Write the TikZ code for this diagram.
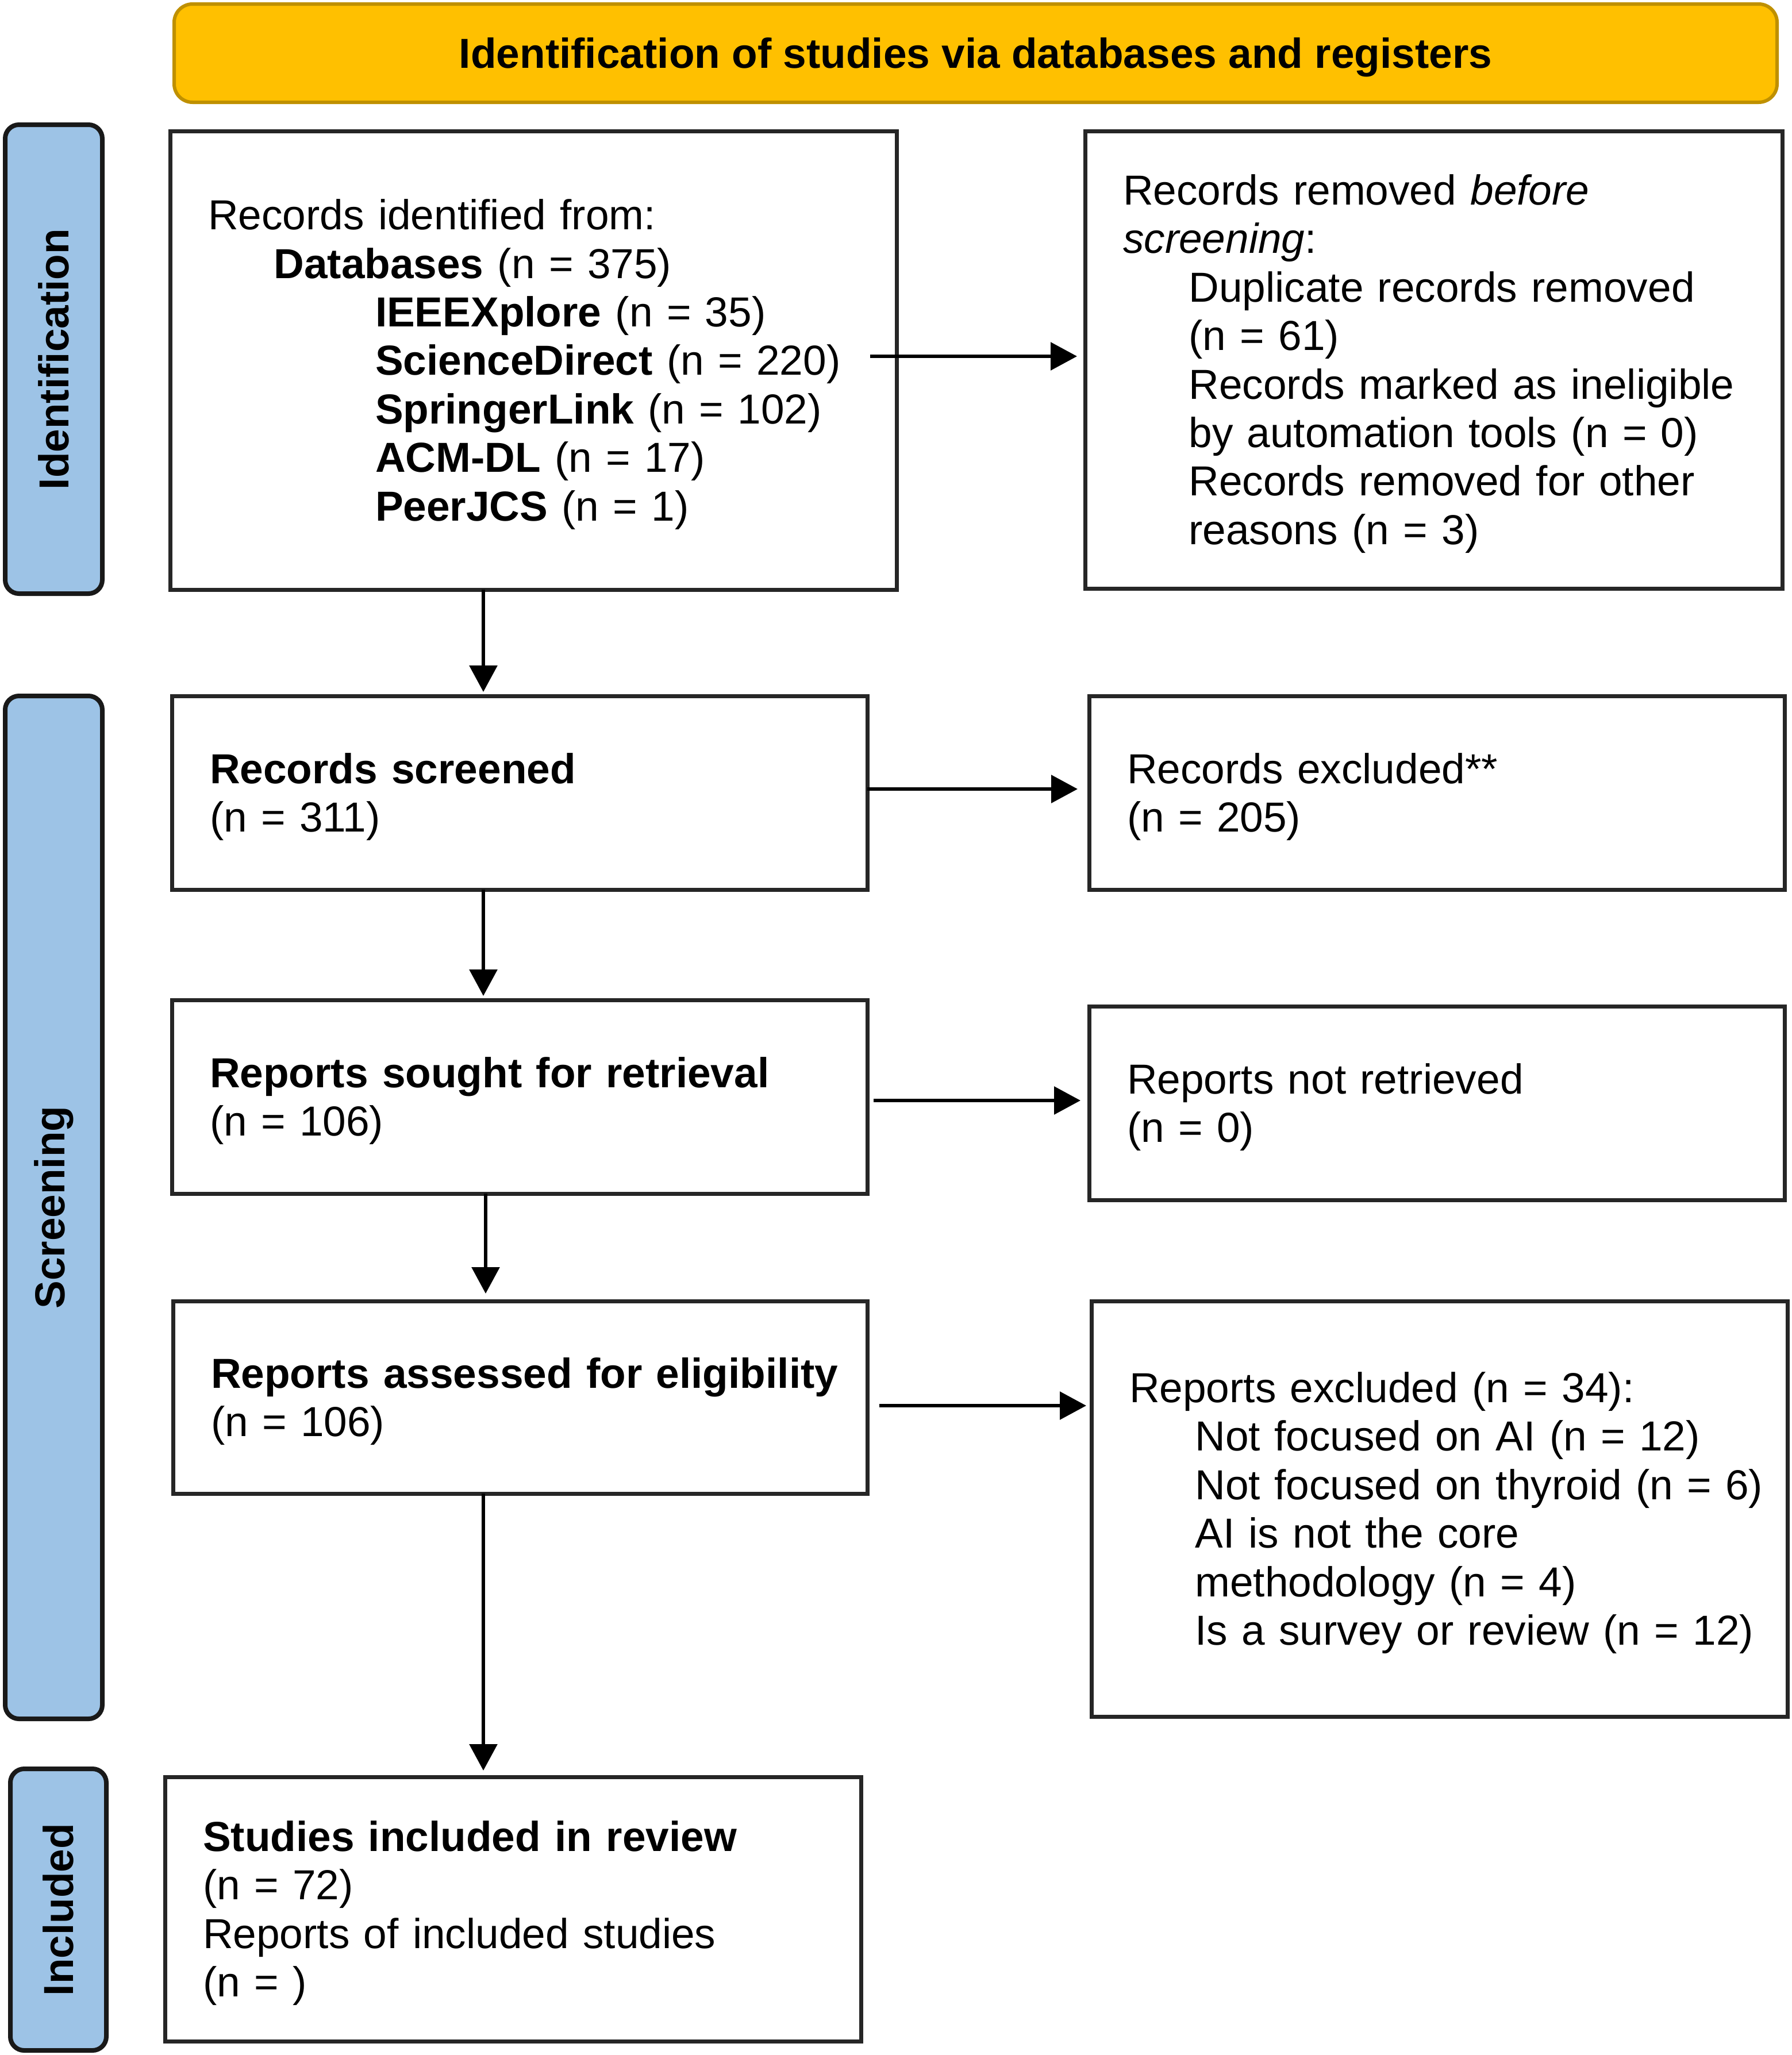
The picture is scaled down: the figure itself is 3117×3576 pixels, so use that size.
\documentclass[tikz,border=0pt]{standalone}
\usepackage{fontspec}
\setmainfont{Liberation Sans}
\usetikzlibrary{arrows.meta}
\definecolor{hdrfill}{HTML}{FFC000}
\definecolor{hdrline}{HTML}{BF9000}
\definecolor{sidefill}{HTML}{9DC3E6}
\definecolor{boxline}{HTML}{262626}
\newcommand\fsz{\fontsize{18.25}{21.1}\selectfont}
\newcommand\ind{\hspace*{28.6pt}}
\newcommand\indd{\hspace*{72.75pt}}
\newcommand\txtlines[1]{\noindent\raisebox{-2.25pt}[\height][\depth]{\begin{tabular}{@{}l@{}}#1\end{tabular}}}
\begin{document}
\begin{tikzpicture}[x=0.25pt,y=-0.25pt,
  box/.style={draw=boxline, line width=1.75pt, fill=white, outer sep=0pt,
    inner xsep=16.5pt, inner ysep=0pt, align=left, font=\fsz},
  sidebar/.style={draw=black!90, line width=2pt, fill=sidefill, rounded corners=6pt,
    rotate=90, outer sep=0pt, inner sep=0pt, font=\fsz\bfseries},
  arr/.style={draw=black, line width=1.5pt, -{Triangle[length=11.5pt,width=12pt]}},
]
\useasboundingbox (0,0) rectangle (3117,3576);

% header
\node[draw=hdrline, line width=1.5pt, fill=hdrfill, rounded corners=8pt,
  minimum width=697.25pt, minimum height=42.75pt, outer sep=0pt, inner sep=0pt,
  font=\fsz\bfseries] (hdr) at (1697.5,92.5) {\raisebox{-1.7pt}[\height][\depth]{Identification of studies via databases and registers}};

% side bars
\node[sidebar, minimum width=204pt, minimum height=42.25pt] (sid) at (93.5,625) {Identification};
\node[sidebar, minimum width=445pt, minimum height=42.25pt] (ssc) at (93.5,2101) {Screening};
\node[sidebar, minimum width=122.5pt, minimum height=41.75pt] (sin) at (101.5,3323) {Included};

% boxes
\node[box, text width=283pt, minimum height=199.5pt] (b1) at (928,627) {\txtlines{%
Records identified from:\\
\ind\textbf{Databases} (n = 375)\\
\indd\textbf{IEEEXplore} (n = 35)\\
\indd\textbf{ScienceDirect} (n = 220)\\
\indd\textbf{SpringerLink} (n = 102)\\
\indd\textbf{ACM-DL} (n = 17)\\
\indd\textbf{PeerJCS} (n = 1)}};

\node[box, text width=270.25pt, minimum height=199pt] (rem) at (2494.5,626) {\txtlines{%
Records removed \textit{before}\\
\textit{screening}:\\
\ind Duplicate records removed\\
\ind (n = 61)\\
\ind Records marked as ineligible\\
\ind by automation tools (n = 0)\\
\ind Records removed for other\\
\ind reasons (n = 3)}};

\node[box, text width=269.5pt, minimum height=84.25pt] (scr) at (904,1379.5) {\txtlines{%
\textbf{Records screened}\\
(n = 311)}};

\node[box, text width=269.5pt, minimum height=84.25pt] (exc) at (2500,1379.5) {\txtlines{%
Records excluded**\\
(n = 205)}};

\node[box, text width=269.5pt, minimum height=84.25pt] (sou) at (904,1908.5) {\txtlines{%
\textbf{Reports sought for retrieval}\\
(n = 106)}};

\node[box, text width=269.5pt, minimum height=84.25pt] (ret) at (2500,1919.5) {\txtlines{%
Reports not retrieved\\
(n = 0)}};

\node[box, text width=269pt, minimum height=83.75pt] (ass) at (905,2431.5) {\txtlines{%
\textbf{Reports assessed for eligibility}\\
(n = 106)}};

\node[box, text width=269.75pt, minimum height=180.75pt] (rex) at (2504.5,2625.5) {\txtlines{%
Reports excluded (n = 34):\\
\ind Not focused on AI (n = 12)\\
\ind Not focused on thyroid (n = 6)\\
\ind AI is not the core\\
\ind methodology (n = 4)\\
\ind Is a survey or review (n = 12)}};

\node[box, text width=269.75pt, minimum height=115pt] (inc) at (892.5,3322) {\txtlines{%
\textbf{Studies included in review}\\
(n = 72)\\
Reports of included studies\\
(n = )}};

% guide coordinates for connectors
\coordinate (vx) at (841,0);
\coordinate (vxb) at (845,0);
\coordinate (hya) at (0,620);
\coordinate (hyb) at (0,1373);
\coordinate (hyc) at (0,1915);
\coordinate (hyd) at (0,2446);

% vertical connectors
\draw[arr, shorten >=1.75pt] (b1.south -| vx) -- (scr.north -| vx);
\draw[arr, shorten >=1.75pt] (scr.south -| vx) -- (sou.north -| vx);
\draw[arr, shorten >=3.25pt] (sou.south -| vxb) -- (ass.north -| vxb);
\draw[arr, shorten >=2.75pt] (ass.south -| vx) -- (inc.north -| vx);

% horizontal connectors
\draw[arr, shorten <=-11.5pt, shorten >=3.5pt] (b1.east |- hya) -- (rem.west |- hya);
\draw[arr, shorten >=5pt] (scr.east |- hyb) -- (exc.west |- hyb);
\draw[arr, shorten <=2.75pt, shorten >=3.75pt] (sou.east |- hyc) -- (ret.west |- hyc);
\draw[arr, shorten <=5.25pt, shorten >=2.25pt] (ass.east |- hyd) -- (rex.west |- hyd);
\end{tikzpicture}
\end{document}
